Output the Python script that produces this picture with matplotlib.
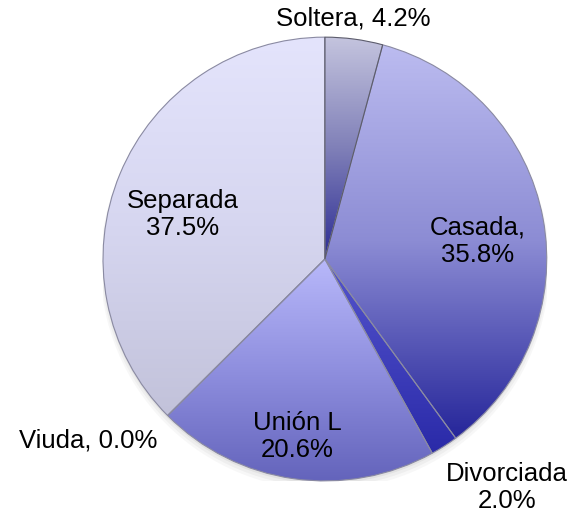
import numpy as np
import matplotlib
matplotlib.use("Agg")
import matplotlib.pyplot as plt
from matplotlib.colors import LinearSegmentedColormap
from matplotlib.patches import Circle

#%% datos
categorias = ["Soltera", "Casada", "Divorciada", "Unión L", "Viuda", "Separada"]
porcentajes = [4.2, 35.8, 2.0, 20.6, 0.0, 37.5]
etiquetas = ["Soltera, 4.2%", "Casada,\n35.8%", "Divorciada\n2.0%",
             "Unión L\n20.6%", "Viuda, 0.0%", "Separada\n37.5%"]

# colores (arriba, medio, abajo) de cada porcion
colores = [("#c4c4de", "#8080b8", "#2c2c94"),
           ("#bcbcf0", "#8c8cd4", "#26269a"),
           ("#5454cc", "#4040bc", "#2a2aa8"),
           ("#b8b8fa", "#8e8ede", "#6262ba"),
           ("#b8b8fa", "#8e8ede", "#6262ba"),
           ("#e4e4fc", "#d6d6f0", "#c2c2da")]

# posicion de las etiquetas (coordenadas del pie)
pos_etiquetas = [(0.126, 1.086), (0.69, 0.08), (0.82, -1.03),
                 (-0.126, -0.80), (-1.068, -0.82), (-0.64, 0.20)]

plt.rcParams['font.family'] = ['Liberation Sans', 'DejaVu Sans']

#%% figura
fig = plt.figure(figsize=(5.75, 5.16), dpi=100)
ax = fig.add_axes([0.565 - 0.386, 0.498 - 0.430, 0.772, 0.860])

# sombra suave bajo el pie
for k, a in enumerate([0.10, 0.08, 0.06]):
    ax.add_patch(Circle((0.0, -0.012 - 0.008 * k), 1.0 + 0.006 * k,
                        facecolor="#808080", edgecolor="none", alpha=a, zorder=0.1))

wedges, _ = ax.pie(porcentajes, startangle=90, counterclock=False, radius=1,
                   wedgeprops=dict(edgecolor="#8a8aa2", linewidth=0.8))

for w, cs in zip(wedges, colores):
    w.set_facecolor("none")
    verts = w.get_path().vertices
    if len(verts) == 0:
        continue
    x0, x1 = verts[:, 0].min(), verts[:, 0].max()
    y0, y1 = verts[:, 1].min(), verts[:, 1].max()
    if x1 - x0 < 1e-6 or y1 - y0 < 1e-6:
        continue
    cmap = LinearSegmentedColormap.from_list("g", cs[::-1])
    grad = np.linspace(0, 1, 256).reshape(-1, 1)
    im = ax.imshow(grad, cmap=cmap, origin="lower", aspect="auto",
                   extent=(x0, x1, y0, y1), zorder=0.5)
    im.set_clip_path(w)
    w.set_zorder(1)

# bordes mas oscuros de la porcion Soltera
wedges[0].set_edgecolor("#5c5c6c")
wedges[0].set_zorder(1.1)

for txt, (x, y) in zip(etiquetas, pos_etiquetas):
    ax.text(x, y, txt, ha="center", va="center", fontsize=18.5,
            linespacing=1.15, color="black", zorder=3)

ax.set_xlim(-1, 1)
ax.set_ylim(-1, 1)
ax.set_aspect("equal")
ax.axis("off")

fig.savefig("out.png", dpi=100)
